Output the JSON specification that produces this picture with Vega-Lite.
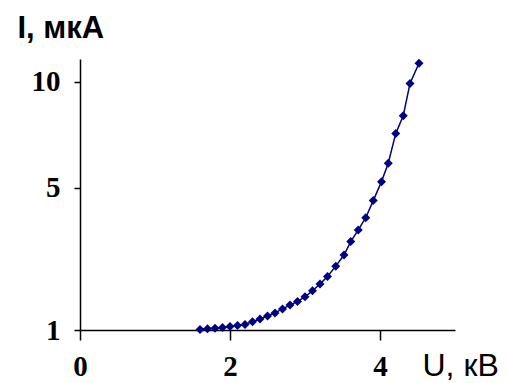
{
  "$schema": "https://vega.github.io/schema/vega-lite/v6.json",
  "width": 375,
  "height": 271,
  "autosize": {"type": "none"},
  "padding": {"left": 80, "top": 59, "right": 53, "bottom": 53},
  "background": "white",
  "config": {"view": {"stroke": null}},
  "data": {"values": [
    {"U": 1.6, "I": 1.01}, {"U": 1.7, "I": 1.02}, {"U": 1.8, "I": 1.03}, {"U": 1.9, "I": 1.045},
    {"U": 2.0, "I": 1.06}, {"U": 2.1, "I": 1.08}, {"U": 2.2, "I": 1.10}, {"U": 2.3, "I": 1.15},
    {"U": 2.4, "I": 1.20}, {"U": 2.5, "I": 1.26}, {"U": 2.6, "I": 1.32}, {"U": 2.7, "I": 1.40},
    {"U": 2.8, "I": 1.48}, {"U": 2.9, "I": 1.56}, {"U": 3.0, "I": 1.66}, {"U": 3.1, "I": 1.80},
    {"U": 3.2, "I": 1.96}, {"U": 3.3, "I": 2.15}, {"U": 3.41, "I": 2.42}, {"U": 3.52, "I": 2.73},
    {"U": 3.61, "I": 3.13}, {"U": 3.71, "I": 3.50}, {"U": 3.81, "I": 3.91}, {"U": 3.91, "I": 4.52},
    {"U": 4.02, "I": 5.25}, {"U": 4.11, "I": 6.01}, {"U": 4.21, "I": 7.35}, {"U": 4.31, "I": 8.21},
    {"U": 4.40, "I": 9.90}, {"U": 4.52, "I": 11.03}
  ]},
  "encoding": {
    "x": {
      "field": "U", "type": "quantitative",
      "scale": {"domain": [0, 5], "nice": false, "zero": false},
      "axis": {
        "values": [0, 2, 4], "grid": false, "domainColor": "black", "domainWidth": 1.5,
        "tickColor": "black", "tickWidth": 1.5, "tickSize": 10,
        "labelFont": "Liberation Serif", "labelFontWeight": "bold", "labelFontSize": 29,
        "labelColor": "black", "labelPadding": 12, "labelBaseline": "top", "labelFlush": false,
        "title": "U, кВ", "titleFont": "Liberation Sans", "titleFontWeight": "normal",
        "titleFontSize": 32, "titleColor": "black", "titleAnchor": "start",
        "titleAlign": "left", "titleBaseline": "alphabetic", "titleX": 342, "titleY": 45
      }
    },
    "y": {
      "field": "I", "type": "quantitative",
      "scale": {"type": "sqrt", "domain": [1, 11.28], "nice": false, "zero": false},
      "axis": {
        "values": [1, 5, 10], "grid": false, "domainColor": "black", "domainWidth": 1.5,
        "tickColor": "black", "tickWidth": 1.5, "tickSize": 6,
        "labelFont": "Liberation Serif", "labelFontWeight": "bold", "labelFontSize": 29,
        "labelColor": "black", "labelPadding": 14, "labelFlush": false,
        "title": "I, мкА", "titleFont": "Liberation Sans", "titleFontWeight": "bold",
        "titleFontSize": 31, "titleColor": "black", "titleAngle": 0,
        "titleAlign": "left", "titleBaseline": "alphabetic", "titleX": -63, "titleY": -22
      }
    }
  },
  "layer": [
    {"mark": {"type": "line", "color": "#000080", "strokeWidth": 1.5}},
    {"mark": {"type": "point", "shape": "diamond", "filled": true, "color": "#000080", "opacity": 1, "size": 81}}
  ]
}
